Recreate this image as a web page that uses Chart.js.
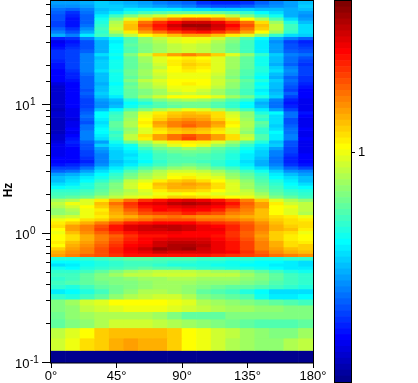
<!DOCTYPE html>
<html>
<head>
<meta charset="utf-8">
<title>Hz by angle</title>
<script src="https://cdn.jsdelivr.net/npm/chart.js@4"></script>
<style>
html, body { margin: 0; padding: 0; background: #fff; }
canvas { position: absolute; top: 0; }
#heatChart { left: 0; }
#barChart { left: 320px; }
</style>
</head>
<body>
<canvas id="heatChart" width="418" height="383"></canvas>
<canvas id="barChart" width="98" height="383"></canvas>
<script>
// angle bins, degrees
const angleEdges = [0, 10, 20, 30, 40, 50, 60, 70, 80, 90, 100, 110, 120, 130, 140, 150, 160, 170, 180];

// frequency band edges, Hz, top of the plot to the bottom
const freqEdges = [
    64, 60.41, 57.02, 53.82, 50.8, 47.95, 45.25, 42.71, 40.32, 38.05, 35.92, 33.9,
    32, 30.2, 28.51, 26.91, 25.4, 23.97, 22.63, 21.36, 20.16, 19.03, 17.96, 16.95,
    16, 15.1, 14.25, 13.45, 12.7, 11.99, 11.31, 10.68, 10.08, 9.51, 8.98, 8.48,
    8, 7.55, 7.13, 6.73, 6.35, 5.99, 5.66, 5.34, 5.04, 4.76, 4.49, 4.24,
    4, 3.78, 3.56, 3.36, 3.17, 3, 2.83, 2.67, 2.52, 2.38, 2.24, 2.12,
    2, 1.89, 1.78, 1.68, 1.59, 1.5, 1.41, 1.33, 1.26, 1.19, 1.12, 1.06,
    1, 0.944, 0.891, 0.841, 0.794, 0.749, 0.707, 0.667,
    0.625, 0.594, 0.5625, 0.531, 0.5, 0.469, 0.4375, 0.406, 0.375, 0.344, 0.3125, 0.281, 0.25, 0.219, 0.1875, 0.156, 0.125, 0.1
];

// colour level (0-63) of each cell, one row per frequency band, same order as freqEdges
const cellLevels = [
    [17,17,18,20,19,18,17,15,14,13,10,9,9,10,13,15,17,19],
    [16,16,17,20,20,19,18,17,16,15,13,12,12,13,15,16,17,20],
    [14,13,15,19,20,22,22,22,22,21,21,20,20,20,19,19,18,19],
    [13,10,14,20,22,25,27,28,29,29,29,29,28,26,23,21,18,17],
    [12,9,13,22,27,31,34,36,38,39,39,38,35,31,27,24,18,16],
    [12,8,13,24,31,37,41,44,47,49,49,47,44,39,34,28,21,17],
    [11,8,13,25,34,42,48,52,55,58,58,56,52,48,41,33,25,19],
    [11,8,14,26,35,43,50,54,58,61,61,58,55,50,43,35,27,21],
    [13,10,16,27,36,43,48,53,56,58,59,57,53,48,42,35,27,21],
    [15,12,18,26,34,40,45,48,51,53,54,52,49,45,39,33,26,21],
    [18,15,22,27,30,35,39,41,43,45,45,43,40,37,32,26,21,20],
    [9,10,15,20,23,28,32,35,37,38,38,36,32,28,23,18,15,13],
    [6,8,12,18,22,28,32,34,37,38,37,34,31,27,22,16,11,9],
    [7,9,12,18,23,29,31,33,35,36,35,33,30,27,22,17,12,10],
    [8,10,12,18,23,28,31,33,35,36,35,33,30,27,22,17,12,11],
    [10,11,13,18,23,28,31,33,35,36,35,33,30,27,22,17,13,12],
    [10,11,15,21,24,31,36,42,45,47,45,42,37,32,26,20,15,14],
    [10,11,15,19,23,29,33,37,39,40,39,37,33,29,24,19,14,12],
    [9,11,15,20,24,29,33,37,40,41,40,37,33,29,24,19,14,11],
    [8,11,15,20,24,29,32,36,40,42,41,37,33,29,24,18,13,10],
    [8,11,15,20,24,29,32,35,39,41,40,37,33,29,25,20,15,11],
    [7,10,15,21,25,30,33,37,39,40,39,37,32,28,25,21,16,11],
    [7,9,14,19,24,30,33,36,38,38,38,36,32,28,24,19,15,11],
    [7,9,13,19,24,29,32,35,38,38,38,35,31,27,23,18,13,10],
    [7,8,13,19,24,31,35,37,39,39,39,36,33,29,25,20,14,10],
    [5,7,13,18,23,29,33,36,39,40,39,36,32,28,23,19,13,9],
    [4,7,13,19,24,30,33,35,38,38,38,35,32,28,24,19,12,8],
    [4,7,12,19,24,29,31,33,37,38,36,33,30,27,22,18,11,7],
    [4,7,13,20,24,29,31,33,35,36,35,33,30,27,23,19,13,7],
    [4,7,12,19,22,29,33,36,39,39,39,37,33,30,25,20,11,7],
    [4,7,11,17,19,25,28,31,33,34,33,31,28,26,20,15,9,6],
    [4,7,11,16,18,23,25,28,30,30,30,28,26,23,18,14,8,6],
    [4,7,11,16,19,24,27,28,29,30,30,28,26,23,19,14,9,6],
    [3,6,12,19,23,28,31,34,36,38,37,34,30,27,22,17,11,6],
    [4,6,13,23,26,32,37,40,42,43,42,41,36,32,25,23,14,8],
    [4,6,14,23,27,32,38,41,43,44,44,41,37,32,27,21,14,7],
    [3,5,13,22,27,33,39,42,45,46,45,42,38,33,26,21,12,6],
    [3,6,12,21,29,34,40,45,47,48,47,45,40,34,29,21,12,6],
    [3,6,14,22,29,34,39,44,47,49,47,44,39,34,28,20,13,6],
    [3,7,14,23,28,32,37,41,43,44,43,41,37,33,26,21,14,7],
    [3,6,15,23,26,33,37,40,42,43,42,40,37,32,26,23,14,6],
    [4,7,15,22,27,35,41,45,48,50,48,45,41,35,28,22,15,6],
    [4,8,15,21,26,35,40,45,48,51,48,45,41,36,28,22,15,7],
    [5,9,13,17,24,30,33,37,40,40,40,37,33,29,25,19,12,6],
    [6,8,12,20,22,24,30,33,37,39,37,33,30,26,22,20,12,6],
    [6,7,12,17,21,23,27,30,31,33,31,29,27,24,21,17,11,6],
    [6,7,11,16,20,22,25,28,30,30,30,28,26,23,20,15,11,6],
    [6,7,11,15,20,21,24,27,28,29,28,27,25,22,20,15,10,7],
    [7,7,10,15,20,22,24,27,28,28,28,27,25,22,19,14,9,7],
    [7,7,9,15,19,21,23,26,28,28,27,26,24,21,18,14,9,7],
    [8,9,11,16,20,22,25,27,29,30,29,26,24,22,18,15,10,8],
    [11,11,14,19,22,25,28,30,32,33,31,29,27,24,21,17,13,11],
    [13,14,17,21,24,28,31,34,36,36,35,33,30,27,24,20,16,15],
    [17,18,20,23,26,30,33,35,38,38,37,35,32,29,26,22,19,17],
    [19,20,22,24,27,31,34,36,39,40,38,37,33,30,27,23,21,19],
    [19,21,23,26,29,35,37,40,42,43,41,39,36,32,28,25,22,19],
    [21,22,25,28,31,36,39,43,44,45,44,41,37,33,29,26,23,21],
    [23,24,25,28,31,36,39,42,44,44,43,41,37,33,30,27,24,23],
    [26,26,27,29,32,34,37,40,42,42,41,39,37,35,31,28,26,25],
    [27,27,28,30,33,35,36,38,38,39,38,37,36,36,33,29,27,26],
    [28,29,30,33,35,37,38,40,42,42,41,40,39,38,35,31,29,27],
    [33,34,37,40,44,48,52,54,56,57,56,54,51,47,42,37,34,32],
    [35,38,37,43,48,52,56,57,59,60,59,57,54,49,45,40,36,35],
    [34,36,39,42,46,51,54,55,56,57,56,55,52,48,45,39,38,35],
    [32,34,38,40,45,49,52,55,54,55,55,53,49,47,43,39,37,35],
    [32,33,38,41,44,47,50,51,51,53,51,50,47,46,43,39,37,34],
    [35,36,38,40,43,44,46,47,48,47,46,46,45,44,43,41,40,38],
    [38,39,41,42,45,47,48,50,50,50,48,48,47,46,44,42,41,40],
    [40,42,44,47,50,53,54,55,55,55,53,52,51,49,46,43,41,41],
    [41,45,47,50,54,57,58,59,59,58,56,55,53,50,47,44,42,41],
    [39,45,47,51,54,57,58,58,59,58,56,56,53,50,47,44,43,40],
    [38,43,46,49,52,54,56,56,56,55,55,55,52,49,46,42,41,38],
    [39,41,44,47,49,52,54,54,55,55,55,54,52,49,45,42,40,39],
    [39,41,44,47,50,53,55,56,57,57,57,55,53,50,46,42,40,39],
    [40,43,45,48,51,54,55,58,59,59,58,56,54,51,47,44,41,40],
    [39,44,46,49,52,55,56,58,60,60,59,56,54,51,47,44,41,42],
    [42,45,47,50,53,56,58,61,60,61,58,56,54,51,47,45,43,42],
    [44,46,47,50,53,55,56,58,57,57,57,56,55,52,49,46,44,43],
    [45,47,49,50,52,54,54,54,54,54,54,53,52,51,50,48,47,46],
    [25,25,26,27,28,29,29,28,28,28,27,27,26,26,25,25,26,26],
    [23,23,24,25,26,27,27,27,26,26,25,25,24,24,23,23,22,21],
    [21,22,24,25,26,27,27,26,25,25,25,24,24,23,23,22,22,21],
    [24,23,25,26,27,28,29,28,28,27,26,26,25,25,24,23,22,22],
    [26,26,27,29,31,33,34,35,35,35,34,33,33,31,29,27,25,24],
    [27,27,29,31,33,35,35,36,36,36,35,35,35,33,31,29,27,26],
    [26,27,29,31,31,32,33,33,34,34,33,33,33,32,31,29,27,26],
    [27,28,29,30,31,31,32,33,33,33,32,32,32,31,30,28,27,26],
    [26,25,27,29,30,31,32,33,33,32,31,30,29,29,28,27,26,25],
    [22,23,25,27,30,32,34,34,33,32,29,28,27,25,23,21,21,21],
    [26,25,27,29,32,34,35,36,36,34,31,30,29,28,24,22,22,23],
    [31,33,36,37,39,39,39,39,38,37,34,33,32,31,30,29,28,27],
    [31,32,35,36,37,38,38,38,37,36,35,34,33,33,32,32,31,31],
    [30,32,33,34,34,34,34,33,31,29,29,29,31,31,31,31,31,31],
    [29,31,32,34,36,36,36,35,34,33,32,31,30,29,28,28,28,29],
    [35,37,39,42,43,43,43,43,42,39,38,36,35,33,32,31,31,33],
    [36,38,41,42,44,45,44,44,42,39,38,36,34,33,32,32,34,35],
    [0,0,0,0,0,0,0,0,0,0,0,0,0,0,0,0,0,0]
];

// colour bar levels, bottom to top, and where its one tick sits
const barLevels = [
    0,1,2,3,4,5,6,7,8,9,10,11,12,13,14,15,
    16,17,18,19,20,21,22,23,24,25,26,27,28,29,30,31,
    32,33,34,35,36,37,38,39,40,41,42,43,44,45,46,47,
    48,49,50,51,52,53,54,55,56,57,58,59,60,61,62,63
];
const barTickLevel = 38.5;
const barTickLabel = '1';

const yMajorTicks = [0.1, 1, 10];
const yExponents = ['-1', '0', '1'];
const yTitle = 'Hz';

const tickFont = '13px "Liberation Sans", Arial, sans-serif';

// matlab style 64 step jet
function jet(level) {
    const n = level + 1;
    const clamp = v => Math.max(0, Math.min(1, v));
    const r = n > 56 ? 1 - (n - 56) / 16 : clamp((n - 24) / 16);
    const g = n > 40 ? clamp(1 - (n - 40) / 16) : clamp((n - 8) / 16);
    let b = 0;
    if (n <= 8) b = 0.5625 + (n - 1) / 16;
    else if (n <= 24) b = 1;
    else if (n <= 40) b = 1 - (n - 24) / 16;
    return `rgb(${Math.round(r * 255)},${Math.round(g * 255)},${Math.round(b * 255)})`;
}

// frame, log ticks and the axis text Chart.js can't do (superscripts)
const heatDecor = {
    id: 'heatDecor',
    afterDraw(chart) {
        const { ctx, chartArea } = chart;
        const yScale = chart.scales.y;
        ctx.save();
        ctx.strokeStyle = '#000';
        ctx.lineWidth = 1;
        ctx.strokeRect(chartArea.left - 0.5, chartArea.top - 0.5, chartArea.width + 1, chartArea.height + 0.5);

        yScale.ticks.forEach(t => {
            if (t.value >= yScale.max) return;
            const y = Math.round(yScale.getPixelForValue(t.value)) - 0.5;
            const major = yMajorTicks.includes(t.value);
            ctx.beginPath();
            ctx.moveTo(chartArea.left - (major ? 9 : 5), y);
            ctx.lineTo(chartArea.left, y);
            ctx.stroke();
        });

        ctx.fillStyle = '#000';
        ctx.textBaseline = 'alphabetic';
        yMajorTicks.forEach((v, i) => {
            const y = yScale.getPixelForValue(v);
            ctx.font = tickFont;
            ctx.textAlign = 'left';
            ctx.fillText('10', 15, y + 5);
            ctx.font = '10px "Liberation Sans", Arial, sans-serif';
            ctx.fillText(yExponents[i], 30, y);
        });

        ctx.translate(12, 190);
        ctx.rotate(-Math.PI / 2);
        ctx.font = 'bold 12px "Liberation Sans", Arial, sans-serif';
        ctx.textAlign = 'center';
        ctx.fillText(yTitle, 0, 0);
        ctx.restore();
    }
};

const barFrame = {
    id: 'barFrame',
    afterDraw(chart) {
        const { ctx, chartArea } = chart;
        ctx.save();
        ctx.strokeStyle = '#000';
        ctx.lineWidth = 1;
        ctx.strokeRect(chartArea.left - 0.5, chartArea.top - 0.5, chartArea.width + 1, chartArea.height + 1);
        ctx.restore();
    }
};

const heatDatasets = cellLevels.map((row, r) => ({
    data: row.map((level, c) => ({
        x: (angleEdges[c] + angleEdges[c + 1]) / 2,
        y: [freqEdges[r + 1], freqEdges[r]]
    })),
    backgroundColor: row.map(jet),
    borderWidth: 0
}));

new Chart(document.getElementById('heatChart').getContext('2d'), {
    type: 'bar',
    data: { datasets: heatDatasets },
    plugins: [heatDecor],
    options: {
        responsive: false,
        animation: false,
        events: [],
        grouped: false,
        barPercentage: 1,
        categoryPercentage: 1,
        layout: { padding: { top: 1, right: 105, bottom: 0, left: 0 } },
        plugins: { legend: { display: false }, tooltip: { enabled: false } },
        scales: {
            x: {
                type: 'linear',
                min: 0,
                max: 180,
                offset: false,
                border: { display: false },
                grid: { offset: false, drawOnChartArea: false, tickLength: 5, tickColor: '#000' },
                ticks: {
                    stepSize: 45,
                    autoSkip: false,
                    maxRotation: 0,
                    padding: 1,
                    color: '#000',
                    font: { family: '"Liberation Sans", Arial, sans-serif', size: 13 },
                    callback: v => v + '°'
                },
                afterFit(scale) { scale.height = 20; }
            },
            y: {
                type: 'logarithmic',
                min: 0.1,
                max: 64,
                border: { display: false },
                grid: { display: false },
                ticks: { display: false },
                afterFit(scale) { scale.width = 51; }
            }
        }
    }
});

new Chart(document.getElementById('barChart').getContext('2d'), {
    type: 'bar',
    data: {
        labels: [''],
        datasets: barLevels.map(level => ({
            data: [[level, level + 1]],
            backgroundColor: jet(level),
            borderWidth: 0
        }))
    },
    plugins: [barFrame],
    options: {
        responsive: false,
        animation: false,
        events: [],
        grouped: false,
        barPercentage: 1,
        categoryPercentage: 1,
        layout: { padding: { top: 1, right: 0, bottom: 1, left: 15 } },
        plugins: { legend: { display: false }, tooltip: { enabled: false } },
        scales: {
            x: { display: false },
            y: {
                position: 'right',
                min: 0,
                max: 64,
                afterBuildTicks(scale) { scale.ticks = [{ value: barTickLevel }]; },
                border: { display: false },
                grid: { drawOnChartArea: false, tickLength: 4, tickColor: '#000' },
                ticks: {
                    padding: 3,
                    color: '#000',
                    font: { family: '"Liberation Sans", Arial, sans-serif', size: 13 },
                    callback: () => barTickLabel
                },
                afterFit(scale) {
                    scale.width = 67;
                    scale.paddingTop = 0;
                    scale.paddingBottom = 0;
                }
            }
        }
    }
});
</script>
</body>
</html>
